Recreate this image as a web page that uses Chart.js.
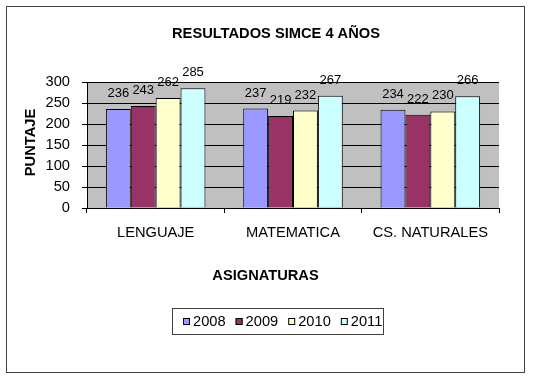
<!DOCTYPE html>
<html>
<head>
<meta charset="utf-8">
<script src="https://cdn.jsdelivr.net/npm/chart.js@4.4.1/dist/chart.umd.min.js"></script>
<style>
    html, body { margin: 0; padding: 0; background: #fff; }
</style>
</head>
<body>
<canvas id="chart" width="535" height="378"></canvas>
<script>
// Chart data
const subjects = ['LENGUAJE', 'MATEMATICA', 'CS. NATURALES'];
const years = ['2008', '2009', '2010', '2011'];
const scores2008 = [236, 237, 234];
const scores2009 = [243, 219, 222];
const scores2010 = [262, 232, 230];
const scores2011 = [285, 267, 266];
const yMin = 0;
const yMax = 300;
const yStep = 50;

const FONT = "'Liberation Sans', Arial, sans-serif";
const yearColors = ['#9999FF', '#993366', '#FFFFCC', '#CCFFFF'];

// Plugin for the frame, titles, legend box and value labels
const decorPlugin = {
    id: 'decor',
    beforeDraw(chart) {
        const { ctx, chartArea } = chart;
        ctx.save();
        ctx.fillStyle = '#C0C0C0';
        ctx.fillRect(chartArea.left, chartArea.top, chartArea.right - chartArea.left, chartArea.bottom - chartArea.top);
        ctx.restore();
    },
    afterDatasetsDraw(chart) {
        const ctx = chart.ctx;
        ctx.save();
        ctx.font = '13px ' + FONT;
        ctx.fillStyle = '#000';
        ctx.textAlign = 'center';
        ctx.textBaseline = 'middle';
        chart.data.datasets.forEach((ds, i) => {
            chart.getDatasetMeta(i).data.forEach((bar, j) => {
                ctx.fillText(String(ds.data[j]), bar.x, bar.y - 15.5);
            });
        });
        ctx.restore();
    },
    afterDraw(chart) {
        const ctx = chart.ctx;
        ctx.save();

        // outer frame
        ctx.strokeStyle = '#404040';
        ctx.lineWidth = 1;
        ctx.strokeRect(6.5, 6.5, 518, 366);

        ctx.fillStyle = '#000';
        ctx.textAlign = 'center';
        ctx.textBaseline = 'middle';

        // chart title
        ctx.font = 'bold 14.67px ' + FONT;
        ctx.fillText('RESULTADOS SIMCE 4 AÑOS', 276, 34);

        // x axis title
        ctx.fillText('ASIGNATURAS', 265.5, 276);

        // y axis title
        ctx.save();
        ctx.translate(30.5, 142.5);
        ctx.rotate(-Math.PI / 2);
        ctx.fillText('PUNTAJE', 0, 0);
        ctx.restore();

        // legend
        ctx.strokeStyle = '#404040';
        ctx.strokeRect(172.5, 308.5, 211, 26);
        ctx.font = '14.67px ' + FONT;
        ctx.textAlign = 'left';
        let x = 183;
        chart.data.datasets.forEach(ds => {
            ctx.fillStyle = ds.backgroundColor;
            ctx.fillRect(x, 318, 7, 7);
            ctx.strokeStyle = '#000';
            ctx.strokeRect(x + 0.5, 318.5, 6, 6);
            ctx.fillStyle = '#000';
            ctx.fillText(ds.label, x + 10, 322);
            x += 7 + 3 + ctx.measureText(ds.label).width + 10;
        });

        ctx.restore();
    }
};

const allScores = [scores2008, scores2009, scores2010, scores2011];

const datasets = years.map((year, i) => ({
    label: year,
    data: allScores[i],
    backgroundColor: yearColors[i],
    borderColor: '#000',
    borderWidth: 1,
    borderSkipped: 'bottom',
    categoryPercentage: 0.725,
    barPercentage: 1
}));

new Chart(document.getElementById('chart'), {
    type: 'bar',
    data: {
        labels: subjects,
        datasets: datasets
    },
    options: {
        responsive: false,
        animation: false,
        devicePixelRatio: 1,
        layout: {
            padding: { left: 0, top: 82, right: 36, bottom: 130 }
        },
        plugins: {
            legend: { display: false },
            title: { display: false },
            tooltip: { enabled: false }
        },
        scales: {
            x: {
                afterFit: scale => { scale.height = 40; },
                grid: {
                    drawOnChartArea: false,
                    drawTicks: true,
                    tickLength: 5,
                    color: '#000',
                    offset: true
                },
                border: { display: true, color: '#000' },
                ticks: {
                    color: '#000',
                    font: { family: FONT, size: 14.67 },
                    padding: 11,
                    maxRotation: 0,
                    autoSkip: false
                }
            },
            y: {
                min: yMin,
                max: yMax,
                afterFit: scale => { scale.width = 87; },
                grid: {
                    color: '#000',
                    tickLength: 5,
                    drawTicks: true
                },
                border: { display: true, color: '#000' },
                ticks: {
                    stepSize: yStep,
                    color: '#000',
                    font: { family: FONT, size: 14.67 },
                    padding: 12
                }
            }
        }
    },
    plugins: [decorPlugin]
});
</script>
</body>
</html>
